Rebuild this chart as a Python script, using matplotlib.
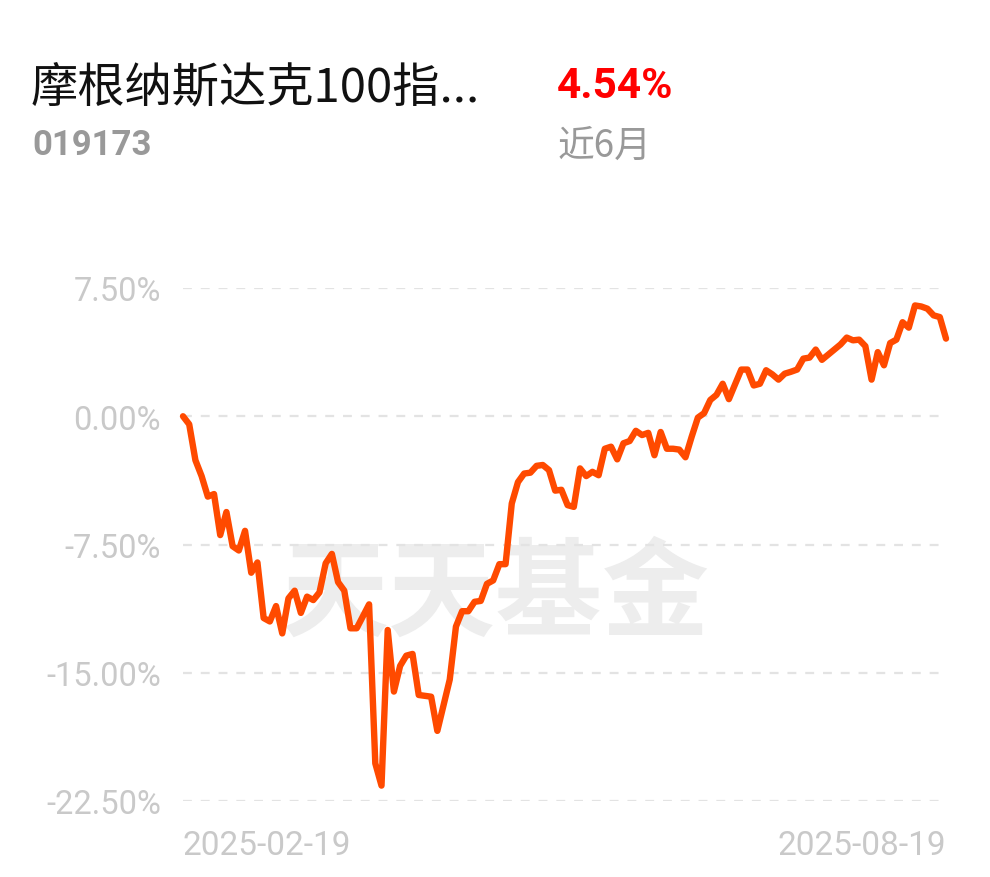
import matplotlib
matplotlib.use("Agg")
import matplotlib.pyplot as plt
import numpy as np

# ── Data ─────────────────────────────────────────────────────────────────────
fund_name = "摩根纳斯达克100指..."
fund_code = "019173"
period_return = "4.54%"
period_label = "近6月"
date_labels = ["2025-02-19", "2025-08-19"]
y_ticks = [7.5, 0.0, -7.5, -15.0, -22.5]

# cumulative return (%), one point per trading day
returns = [
    0.0, -0.47, -2.57, -3.5, -4.7, -4.55, -6.95, -5.6, -7.6, -7.85,
    -6.7, -9.15, -8.55, -11.8, -12.0, -11.1, -12.7, -10.65, -10.2, -11.5,
    -10.55, -10.75, -10.3, -8.6, -8.05, -9.7, -10.2, -12.4, -12.4, -11.7,
    -11.0, -20.3, -21.6, -12.5, -16.1, -14.6, -14.0, -13.9, -16.3, -16.35,
    -16.4, -18.4, -16.9, -15.4, -12.3, -11.4, -11.4, -10.85, -10.8, -9.8,
    -9.6, -8.65, -8.65, -5.1, -3.85, -3.35, -3.3, -2.9, -2.85, -3.15,
    -4.35, -4.3, -5.2, -5.3, -3.05, -3.5, -3.25, -3.45, -1.9, -1.78,
    -2.52, -1.58, -1.45, -0.85, -1.1, -0.97, -2.28, -0.92, -1.9, -1.9,
    -1.95, -2.4, -1.2, -0.08, 0.18, 0.95, 1.25, 1.9, 1.0, 1.87,
    2.73, 2.73, 1.8, 1.9, 2.69, 2.45, 2.14, 2.49, 2.6, 2.73,
    3.37, 3.43, 3.9, 3.3, 3.6, 3.9, 4.2, 4.6, 4.44, 4.48,
    4.1, 2.14, 3.75, 2.98, 4.28, 4.48, 5.5, 5.18, 6.48, 6.42,
    6.29, 5.9, 5.8, 4.54,
]

# ── Style ────────────────────────────────────────────────────────────────────
CJK = ["Noto Sans CJK SC", "DejaVu Sans"]
NUM = ["Roboto", "DejaVu Sans"]
LINE_C = "#ff4a00"
GRID_C = "#e3e3e3"
LABEL_C = "#c9c9c9"
GREY_C = "#999999"

fig = plt.figure(figsize=(9.9, 8.78), dpi=100)
fig.patch.set_facecolor("white")

# header texts
fig.text(31 / 990, 1 - 88 / 878, fund_name, family=CJK, fontsize=34,
         color="#111111", ha="left", va="center")
fig.text(32 / 990, 1 - 146 / 878, fund_code, family=NUM, fontsize=25,
         fontweight="bold", color=GREY_C, ha="left", va="center")
fig.text(557 / 990, 1 - 87 / 878, period_return, family=NUM, fontsize=30.5,
         fontweight="bold", color="#ff0000", ha="left", va="center")
fig.text(558 / 990, 1 - 146 / 878, period_label, family=CJK, fontsize=26.5,
         color=GREY_C, ha="left", va="center")

# ── Chart ────────────────────────────────────────────────────────────────────
ax = fig.add_axes([183 / 990, 1 - 802 / 878, (946 - 183) / 990, (802 - 289) / 878])
x = np.arange(len(returns))

ax.text(0.41, 0.40, "天天基金", transform=ax.transAxes, family=CJK,
        fontsize=77, fontweight="bold", color="#ededed", ha="center",
        va="center", zorder=0)

for v in y_ticks:
    ax.axhline(v, color=GRID_C, lw=1.6, ls=(0, (4, 4)), zorder=1)

ax.plot(x, returns, color=LINE_C, lw=4.6, solid_joinstyle="round",
        solid_capstyle="round", zorder=3, clip_on=False)

ax.set_xlim(0, len(returns) - 1)
ax.set_ylim(-22.5, 7.5)

ax.set_yticks(y_ticks)
ax.set_yticklabels([f"{v:.2f}%" for v in y_ticks], family=NUM,
                   fontsize=23.5, color=LABEL_C)
ax.set_xticks([0, len(returns) - 1])
ax.set_xticklabels(date_labels, family=NUM, fontsize=24, color=LABEL_C)
xt = ax.get_xticklabels()
xt[0].set_ha("left")
xt[1].set_ha("right")
ax.tick_params(axis="y", length=0, pad=16)
ax.tick_params(axis="x", length=0, pad=20)

for s in ax.spines.values():
    s.set_visible(False)
ax.set_facecolor("none")

fig.savefig("out.png", dpi=100, facecolor="white")
